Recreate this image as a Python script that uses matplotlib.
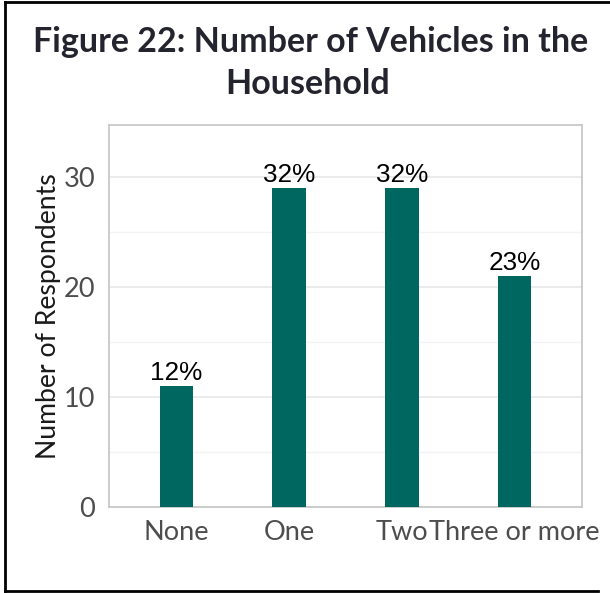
import matplotlib.pyplot as plt
from matplotlib.lines import Line2D
from matplotlib.ticker import MultipleLocator

# --- DATA ---
categories = ["None", "One", "Two", "Three or more"]
counts = [11, 29, 29, 21]
pct_labels = ["12%", "32%", "32%", "23%"]

# --- PLOTTING ---
fig = plt.figure(figsize=(6.10, 5.93), dpi=100)
ax = fig.add_axes([0.1787, 0.145, 0.7754, 0.644])

x = list(range(1, len(categories) + 1))
bars = ax.bar(x, counts, width=0.3, color='#006660', zorder=3)

# percent labels above each bar
for bar, lab in zip(bars, pct_labels):
    ax.annotate(lab, (bar.get_x() + bar.get_width() / 2, bar.get_height()),
                xytext=(0, 4), textcoords='offset points',
                ha='center', va='baseline', fontsize=18.8,
                family='Liberation Sans', color='black', zorder=4)

ax.set_xlim(0.4, 4.6)
ax.set_ylim(0, 34.7)
ax.set_xticks(x)
ax.set_xticklabels(categories)
ax.yaxis.set_major_locator(MultipleLocator(10))
ax.yaxis.set_minor_locator(MultipleLocator(5))

ax.tick_params(axis='both', which='both', length=0, labelsize=19.5,
               labelcolor='#4D4D4D')
ax.tick_params(axis='x', pad=9)
ax.tick_params(axis='y', pad=10)
for lab in ax.get_xticklabels() + ax.get_yticklabels():
    lab.set_family('Lato')

ax.grid(axis='y', which='major', color='#EBEBEB', linewidth=1.4, zorder=0)
ax.grid(axis='y', which='minor', color='#F3F3F3', linewidth=1.0, zorder=0)
ax.grid(axis='x', visible=False)
for sp in ax.spines.values():
    sp.set_color('#C8C8C8')
    sp.set_linewidth(1.3)

ax.set_ylabel("Number of Respondents", fontsize=19.2, family='Lato',
              color='#1A1A1A', labelpad=2)

# title
fig.text(0.51, 0.93, "Figure 22: Number of Vehicles in the", ha='center',
         va='center', fontsize=24.5, fontweight='bold', family='Lato',
         color='#24242E')
fig.text(0.505, 0.858, "Household", ha='center', va='center',
         fontsize=24.5, fontweight='bold', family='Lato', color='#24242E')

# frame lines (left, top, bottom)
fig.add_artist(Line2D([0.0082, 0.0082], [0.0034, 0.9966], color='black',
                      linewidth=2, transform=fig.transFigure))
fig.add_artist(Line2D([0.0082, 1.0], [0.9966, 0.9966], color='black',
                      linewidth=2, transform=fig.transFigure))
fig.add_artist(Line2D([0.0082, 0.98], [0.0034, 0.0034], color='black',
                      linewidth=2, transform=fig.transFigure))

plt.savefig("out.png", dpi=100)
